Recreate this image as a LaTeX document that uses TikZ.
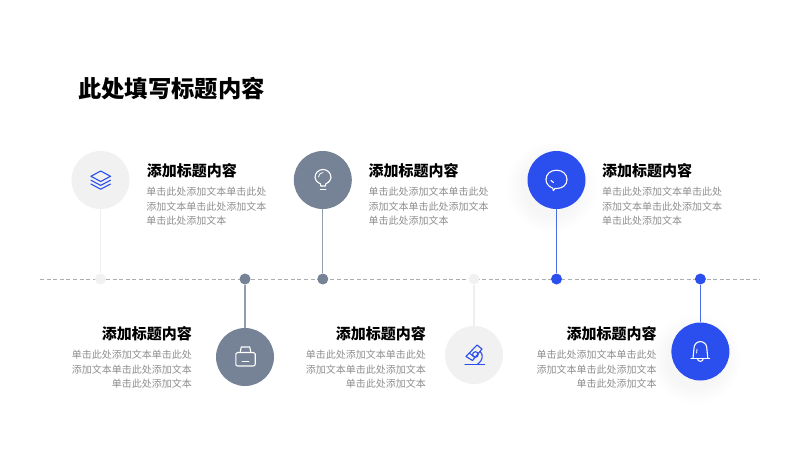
\documentclass[tikz,border=0pt]{standalone}
\usepackage{fontspec}
\setmainfont{Noto Sans CJK SC}
\definecolor{softgray}{HTML}{F1F1F1}
\definecolor{softline}{HTML}{EEEEEF}
\definecolor{slate}{HTML}{768396}
\definecolor{slateline}{HTML}{929EAE}
\definecolor{royal}{HTML}{2B4EEF}
\definecolor{royalline}{HTML}{4A6CE8}
\definecolor{bodytext}{HTML}{8F8F8F}
\definecolor{axisgray}{HTML}{ABABB2}
\tikzset{
  disc/.style={circle,fill=#1,draw=none,inner sep=0pt,minimum size=58pt},
  dot/.style={circle,fill=#1,draw=none,inner sep=0pt,minimum size=11pt},
  stem/.style={draw=#1,line width=1.2pt},
  axisline/.style={draw=axisgray,line width=1pt,dash pattern=on 4pt off 2.6pt},
  titletext/.style={inner sep=0pt,anchor=west,font=\fontsize{23.3}{28}\selectfont\bfseries,text=black},
  headtext/.style={inner sep=0pt,font=\fontsize{15}{18}\selectfont\bfseries,text=black},
  bodyl/.style={inner sep=0pt,anchor=north west,align=left,font=\fontsize{10}{14.6}\selectfont,text=bodytext},
  bodyr/.style={inner sep=0pt,anchor=north east,align=right,font=\fontsize{10}{14.6}\selectfont,text=bodytext},
  iconw/.style={draw=white,line width=1.1pt,line join=round,line cap=round},
  iconb/.style={draw=royal,line width=1.1pt,line join=round,line cap=round},
}
\begin{document}
\begin{tikzpicture}[x=1pt,y=-1pt]
\useasboundingbox (0,0) rectangle (800,450);
\fill[white] (0,0) rectangle (800,450);
% soft shadows
\foreach \r in {29,31,...,45}{
  \fill[royal,opacity=.005] (552,187) circle[radius=\r];
  \fill[royal,opacity=.005] (696,359) circle[radius=\r];
}
% axis
\coordinate (axisL) at (40,279);
\coordinate (axisR) at (760,279);
\draw[axisline] (axisL) -- (axisR);
% discs and dots
\node[disc=softgray] (c1) at (100.5,180) {};
\node[disc=slate] (c2) at (322.8,180) {};
\node[disc=royal] (c3) at (556.5,180) {};
\node[disc=slate] (c4) at (245,357) {};
\node[disc=softgray] (c5) at (474,355) {};
\node[disc=royal] (c6) at (700.4,351.5) {};
\node[dot=softgray] (d1) at (100.5,279) {};
\node[dot=slate] (d2) at (245,279) {};
\node[dot=slate] (d3) at (322.8,279) {};
\node[dot=softgray] (d4) at (474,279) {};
\node[dot=royal] (d5) at (556.5,279) {};
\node[dot=royal] (d6) at (700.4,279) {};
% stems
\draw[stem=softline] (c1) -- (d1);
\draw[stem=slateline] (c2) -- (d3);
\draw[stem=royalline] (c3) -- (d5);
\draw[stem=slateline] (c4) -- (d2);
\draw[stem=softline] (c5) -- (d4);
\draw[stem=royalline] (c6) -- (d6);
% title
\node[titletext] (title) at (78,88.5) {此处填写标题内容};
% top texts
\node[headtext,anchor=west] (h1) at (146.7,170.5) {添加标题内容};
\node[bodyl] (b1) at (146.2,187) {单击此处添加文本单击此处\\添加文本单击此处添加文本\\单击此处添加文本};
\node[headtext,anchor=west] (h2) at (368.5,170.5) {添加标题内容};
\node[bodyl] (b2) at (368.3,187) {单击此处添加文本单击此处\\添加文本单击此处添加文本\\单击此处添加文本};
\node[headtext,anchor=west] (h3) at (602,170.5) {添加标题内容};
\node[bodyl] (b3) at (602,187) {单击此处添加文本单击此处\\添加文本单击此处添加文本\\单击此处添加文本};
% bottom texts
\node[headtext,anchor=east] (h4) at (192,333.5) {添加标题内容};
\node[bodyr] (b4) at (192,350) {单击此处添加文本单击此处\\添加文本单击此处添加文本\\单击此处添加文本};
\node[headtext,anchor=east] (h5) at (426,333.5) {添加标题内容};
\node[bodyr] (b5) at (426,350) {单击此处添加文本单击此处\\添加文本单击此处添加文本\\单击此处添加文本};
\node[headtext,anchor=east] (h6) at (656.7,333.5) {添加标题内容};
\node[bodyr] (b6) at (656.7,350) {单击此处添加文本单击此处\\添加文本单击此处添加文本\\单击此处添加文本};
% icon: layers
\draw[iconb] (100.7,171) -- (110.5,176.3) -- (100.7,181.5) -- (90.9,176.3) -- cycle;
\draw[iconb] (90.9,180.2) -- (100.7,185.4) -- (110.5,180.2);
\draw[iconb] (90.9,184) -- (100.7,189.2) -- (110.5,184);
% icon: bulb
\draw[iconw] (320.6,184) .. controls (316.5,182) and (315,179.5) .. (315,177.5)
  arc[start angle=180,end angle=360,radius=8] .. controls (331,179.5) and (329.5,182) .. (325.6,184)  -- (325.6,186) -- (320.6,186) -- cycle;
\draw[iconw,line width=.8pt] (318.5,177) arc[start angle=180,end angle=270,radius=4.5];
\draw[iconw] (320.4,189.2) -- (325.8,189.2);
% icon: chat
\draw[iconw] (552.8,188.2) .. controls (548.5,186.5) and (546,183.5) .. (546,179.5)
  .. controls (546,174) and (550.5,170.2) .. (556.5,170.2)
  .. controls (562.5,170.2) and (567,174) .. (567,179.5)
  .. controls (567,185) and (562.5,188.5) .. (556.5,188.5)
  .. controls (556,188.5) and (555.5,188.5) .. (555.2,188.4) -- (553.3,190.6) -- cycle;
\draw[iconw] (551,180.5) -- (553.5,182.5);
% icon: bag
\draw[iconw] (237.5,352.5) -- (253.5,352.5) .. controls (254.5,352.5) and (255.2,353) .. (255.2,354)
  -- (255.2,364) .. controls (255.2,365.4) and (254.5,366) .. (253.2,366) -- (237.8,366)
  .. controls (236.5,366) and (235.8,365.4) .. (235.8,364) -- (235.8,354) .. controls (235.8,353) and (236.5,352.5) .. (237.5,352.5) -- cycle;
\draw[iconw] (240.2,352.5) -- (241.2,347) -- (249.8,347) -- (250.8,352.5);
\draw[iconw,line width=.9pt] (242,361.5) -- (249,361.5);
% icon: microscope
\draw[iconb] (466,356.5) -- (477,345) -- (482,349) -- (472.5,360.5) -- cycle;
\draw[iconb] (469.3,353) -- (475,357.6);
\draw[iconb] (475.4,354.5) circle[radius=2.8];
\draw[iconb] (480.3,351.5) .. controls (483.5,355) and (483,360.5) .. (477.5,364.3);
\draw[iconb] (465,364.3) -- (484.5,364.3);
% icon: bell
\draw[iconw] (691,358.3) -- (709.7,358.3);
\draw[iconw] (693,358.3) -- (694,348) arc[start angle=180,end angle=360,radius=6.4] -- (707.8,358.3);
\draw[iconw] (697.5,358.5) arc[start angle=180,end angle=0,radius=2.9];
\draw[iconw,line width=.8pt] (697,349) -- (696.6,353);
\end{tikzpicture}
\end{document}
